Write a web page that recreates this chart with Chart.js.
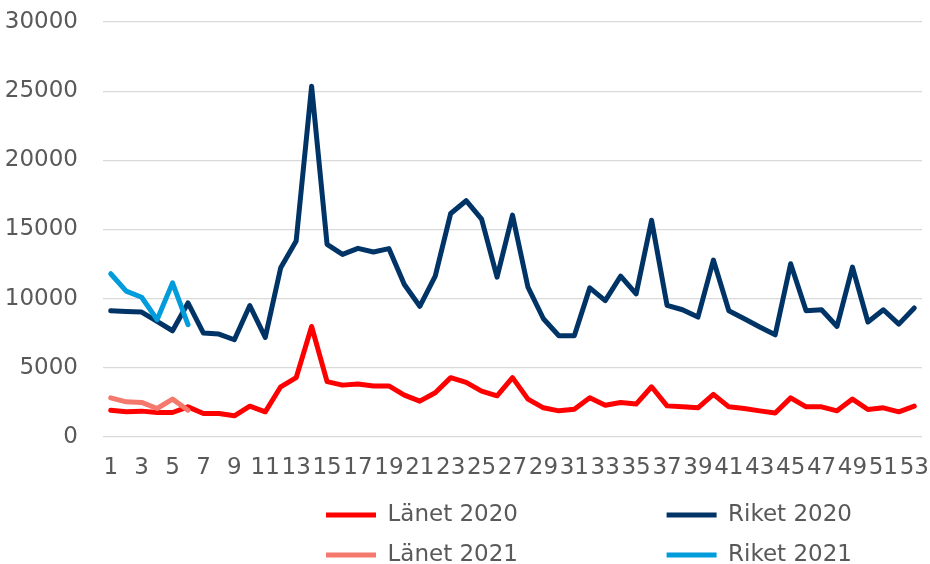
<!DOCTYPE html>
<html>
<head>
  <meta charset="utf-8" />
  <title>Länet och Riket per vecka</title>
  <script src="https://cdn.jsdelivr.net/npm/chart.js"></script>
  <style>
    html, body { margin: 0; padding: 0; background: #fff; }
    #wrap { width: 930px; height: 564px; }
  </style>
</head>
<body>
  <div id="wrap"><canvas id="weekChart"></canvas></div>

  <script>
    // Week numbers on the x axis
    const weeks = [
      1, 2, 3, 4, 5, 6, 7, 8, 9, 10, 11, 12, 13, 14, 15, 16, 17, 18, 19, 20,
      21, 22, 23, 24, 25, 26, 27, 28, 29, 30, 31, 32, 33, 34, 35, 36, 37, 38, 39, 40,
      41, 42, 43, 44, 45, 46, 47, 48, 49, 50, 51, 52, 53
    ];

    // Values
    const lanet2020 = [
      1940, 1820, 1870, 1770, 1770, 2180, 1700, 1700, 1530, 2230,
      1820, 3630, 4290, 7990, 4000, 3750, 3830, 3680, 3690, 3030,
      2590, 3200, 4290, 3950, 3320, 2980, 4290, 2740, 2110, 1890,
      2010, 2830, 2300, 2490, 2380, 3630, 2250, 2180, 2110, 3080,
      2180, 2060, 1890, 1740, 2830, 2180, 2180, 1890, 2740, 1990,
      2110, 1820, 2230
    ];
    const riket2020 = [
      9130, 9080, 9030, 8360, 7680, 9690, 7510, 7440, 7030, 9500,
      7200, 12230, 14170, 25360, 13930, 13200, 13640, 13370, 13620, 11020,
      9450, 11630, 16160, 17080, 15750, 11560, 16040, 10830, 8550, 7320,
      7320, 10780, 9860, 11630, 10340, 15670, 9520, 9200, 8670, 12790,
      9130, 8550, 7950, 7390, 12530, 9130, 9200, 7990, 12280, 8310,
      9200, 8160, 9330
    ];
    const lanet2021 = [2830, 2540, 2500, 2060, 2740, 1940];
    const riket2021 = [11800, 10540, 10100, 8480, 11140, 8120];

    const seriesNames = ['Länet 2020', 'Riket 2020', 'Länet 2021', 'Riket 2021'];
    const seriesColors = ['#FF0000', '#003466', '#F4786C', '#009CDB'];

    const TEXT = '#595959';
    const FONT = 'DejaVu Sans';

    // Shift the legend so its two columns sit where the original has them
    const legendShift = {
      id: 'legendShift',
      afterLayout(chart) {
        const lg = chart.legend;
        lg.left = 309;
        lg.right = 309 + 930;
      }
    };

    function makeSet(i, values, order) {
      return {
        label: seriesNames[i],
        data: values,
        borderColor: seriesColors[i],
        backgroundColor: seriesColors[i],
        borderWidth: 5,
        borderJoinStyle: 'round',
        borderCapStyle: 'round',
        pointRadius: 0,
        tension: 0,
        fill: false,
        order: order
      };
    }

    const ctx = document.getElementById('weekChart').getContext('2d');
    new Chart(ctx, {
      type: 'line',
      data: {
        labels: weeks,
        datasets: [
          makeSet(0, lanet2020, 1),
          makeSet(1, riket2020, 1),
          makeSet(2, lanet2021, 0),
          makeSet(3, riket2021, 0)
        ]
      },
      plugins: [legendShift],
      options: {
        responsive: true,
        maintainAspectRatio: false,
        animation: false,
        layout: { padding: { top: 0, right: 8, left: 5, bottom: -12.5 } },
        plugins: {
          tooltip: { enabled: false },
          legend: {
            position: 'bottom',
            align: 'start',
            labels: {
              usePointStyle: true,
              pointStyle: 'line',
              pointStyleWidth: 50,
              padding: 17,
              color: TEXT,
              font: { family: FONT, size: 23 },
              sort: (a, b) => a.datasetIndex - b.datasetIndex,
              generateLabels(chart) {
                const items = Chart.defaults.plugins.legend.labels.generateLabels(chart);
                // trailing blanks widen each item so two fit per row
                items.forEach(it => { it.text = it.text + ' '.repeat(18); });
                return items;
              }
            }
          }
        },
        scales: {
          x: {
            offset: true,
            grid: { display: false, drawTicks: false },
            border: { display: false },
            afterFit(scale) {
              scale.paddingLeft = 0;
              scale.paddingRight = 0;
              scale.height = 49.5;
            },
            ticks: {
              autoSkip: false,
              maxRotation: 0,
              minRotation: 0,
              padding: 25,
              color: TEXT,
              font: { family: FONT, size: 23, lineHeight: 0.55 },
              callback: (val, idx) => (idx % 2 === 0 ? String(weeks[idx]) : '')
            }
          },
          y: {
            min: 0,
            max: 30000,
            grid: { color: '#D9D9D9', lineWidth: 1.3, drawTicks: false },
            border: { display: false },
            afterFit(scale) {
              scale.paddingTop = 22;
              scale.paddingBottom = 0;
              scale.width = 98;
            },
            ticks: {
              stepSize: 5000,
              padding: 25,
              color: TEXT,
              font: { family: FONT, size: 23 },
              callback: v => String(v)
            }
          }
        }
      }
    });
  </script>
</body>
</html>
